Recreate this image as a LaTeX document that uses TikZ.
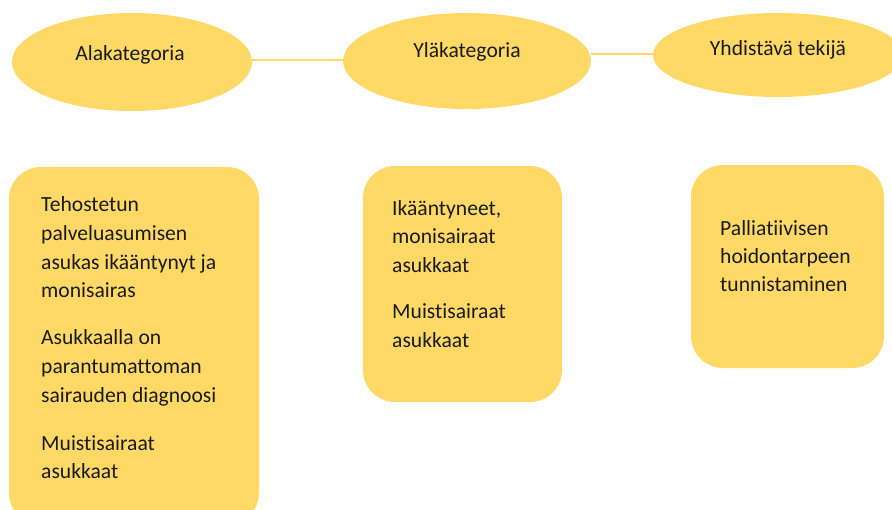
\documentclass[tikz,border=0pt]{standalone}
\usepackage{fontspec}
\setmainfont[Ligatures={NoCommon}]{Carlito}
\usetikzlibrary{shapes.geometric}
\definecolor{gold}{HTML}{FFD966}
\definecolor{ink}{HTML}{1A1A1A}
\tikzset{
  oval/.style={ellipse, fill=gold, draw=none, inner sep=0pt},
  card/.style={fill=gold, draw=none, rounded corners=32pt},
  lbl/.style={font=\fontsize{21.6}{29}\selectfont, text=ink, inner sep=0pt},
  link/.style={draw=gold, line width=2pt}
}
\begin{document}
\begin{tikzpicture}[x=1pt,y=-1pt]
\useasboundingbox (0,0) rectangle (892,509);
\begin{scope}
\clip (0,0) rectangle (892,509);
% ellipses
\node[oval, minimum width=240pt, minimum height=98pt] (e1) at (132,62) {};
\node[oval, minimum width=248pt, minimum height=96pt] (e2) at (467,61) {};
\node[oval, minimum width=250pt, minimum height=84pt] (e3) at (778,55) {};
% connectors
\coordinate (c1a) at (252,60);
\coordinate (c1b) at (343,60);
\coordinate (c2a) at (591,54);
\coordinate (c2b) at (653,54);
\draw[link] (c1a) -- (c1b);
\draw[link] (c2a) -- (c2b);
% ellipse labels
\node[lbl, anchor=base] (t1) at (130,60) {Alakategoria};
\node[lbl, anchor=base] (t2) at (467,57) {Yläkategoria};
\node[lbl, anchor=base] (t3) at (778,55) {Yhdistävä tekijä};
% cards
\draw[card] (9,167) rectangle (259,525);
\draw[card] (363,166) rectangle (562,402);
\draw[card] (691,165) rectangle (884,368);
% card texts
\node[lbl, anchor=base west] (a1) at (41,211) {Tehostetun};
\node[lbl, anchor=base west] (a2) at (41,240) {palveluasumisen};
\node[lbl, anchor=base west] (a3) at (41,269) {asukas ikääntynyt ja};
\node[lbl, anchor=base west] (a4) at (41,297) {monisairas};
\node[lbl, anchor=base west] (a5) at (41,344) {Asukkaalla on};
\node[lbl, anchor=base west] (a6) at (41,373) {parantumattoman};
\node[lbl, anchor=base west] (a7) at (41,402) {sairauden diagnoosi};
\node[lbl, anchor=base west] (a8) at (41,450) {Muistisairaat};
\node[lbl, anchor=base west] (a9) at (41,478) {asukkaat};
\node[lbl, anchor=base west] (b1) at (392,215) {Ikääntyneet,};
\node[lbl, anchor=base west] (b2) at (392,243) {monisairaat};
\node[lbl, anchor=base west] (b3) at (392,272) {asukkaat};
\node[lbl, anchor=base west] (b4) at (392,318) {Muistisairaat};
\node[lbl, anchor=base west] (b5) at (392,347) {asukkaat};
\node[lbl, anchor=base west] (d1) at (720,235) {Palliatiivisen};
\node[lbl, anchor=base west] (d2) at (720,263) {hoidontarpeen};
\node[lbl, anchor=base west] (d3) at (720,291) {tunnistaminen};
\end{scope}
\end{tikzpicture}
\end{document}
